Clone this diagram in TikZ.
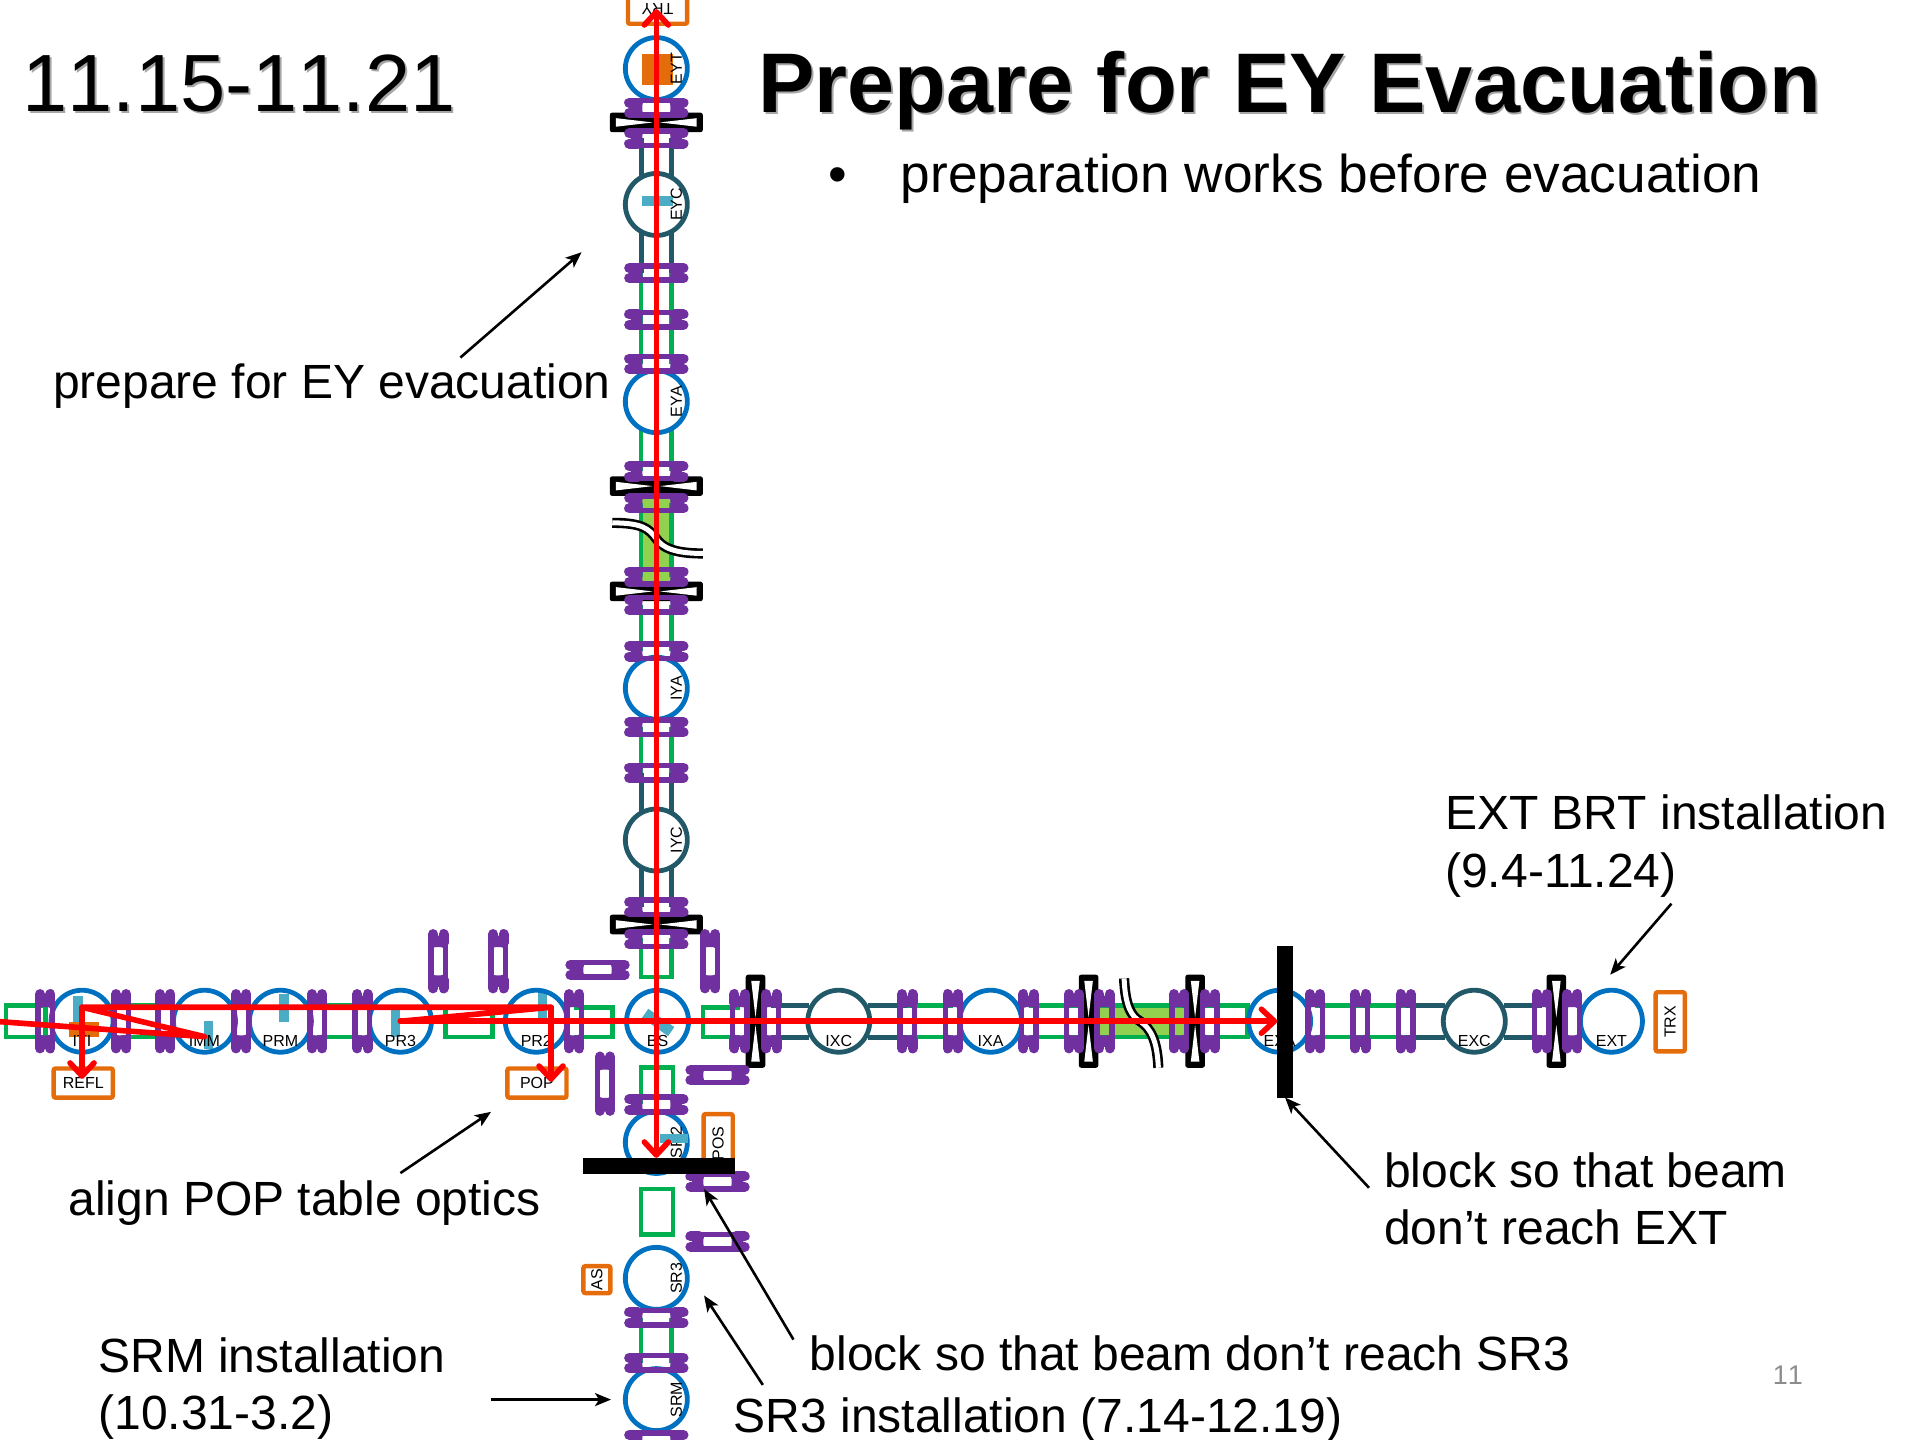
\documentclass[tikz,border=0pt]{standalone}
\usepackage{fontspec}
\setmainfont{Liberation Sans}
\usetikzlibrary{arrows.meta}
\definecolor{vacblue}{HTML}{0070C0}
\definecolor{vacteal}{HTML}{215968}
\definecolor{vacgreen}{HTML}{00B050}
\definecolor{vaclime}{HTML}{92D050}
\definecolor{vacpurple}{HTML}{7030A0}
\definecolor{vacorange}{HTML}{E46C0A}
\definecolor{vacoptic}{HTML}{4BACC6}
\newcommand{\shadowed}[1]{\rlap{\kern.9pt\raisebox{-.9pt}{\textcolor{black!35}{#1}}}#1}

\begin{document}
\begin{tikzpicture}[x=0.6122pt, y=-0.6122pt,
    chamber/.style={circle, draw=vacblue, line width=2.4pt, minimum size=31pt,
        inner sep=0pt, outer sep=0pt},
    cold/.style={chamber, draw=vacteal},
    hlbl/.style={font=\fontsize{8}{8}\selectfont, inner sep=0pt, yshift=-10pt},
    vlbl/.style={font=\fontsize{8}{8}\selectfont, inner sep=0pt, rotate=90, yshift=-10pt},
    detector/.style={draw=vacorange, line width=2.2pt, rounded corners=1pt,
        font=\fontsize{8}{8}\selectfont, inner sep=0pt, outer sep=0pt},
    wide/.style={minimum width=29.6pt, minimum height=14.6pt},
    pipe/.style={draw=vacgreen, line width=2.3pt},
    coldpipe/.style={draw=vacteal, line width=2.5pt},
    limefill/.style={fill=vaclime},
    optic/.style={fill=vacoptic},
    breakline/.style={draw=black, double=white, line width=1.3pt, double distance=2.5pt},
    blockbar/.style={fill=black, inner sep=0pt, outer sep=0pt},
    beam/.style={draw=red, line width=2.8pt, line cap=round, line join=round,
        >={Straight Barb[length=6.5pt, width=12pt, round]}},
    note/.style={draw=black, line width=1.3pt,
        -{Stealth[length=8pt, width=6.5pt, inset=2pt]}},
    bigtext/.style={font=\fontsize{24}{28.8}\selectfont, inner sep=0pt, align=left},
    flange/.pic={
        \draw[vacpurple, line width=5pt, line cap=round]
            (-4.2,-22.2) -- (-4.2,-15) (4.2,-22.2) -- (4.2,-15)
            (-4.2,22.2) -- (-4.2,15) (4.2,22.2) -- (4.2,15);
        \fill[vacpurple] (-4,-21) rectangle (4,-11.5) (-4,11.5) rectangle (4,21);
        \draw[vacpurple, line width=2.8pt] (-5.9,-16) -- (-5.9,16) (5.9,-16) -- (5.9,16);
    },
    gate/.pic={
        \fill[black, rounded corners=1.2pt] (-8,-38) rectangle (8,38);
        \fill[white] (-3.5,-33) -- (3.5,-33) -- (0,-3) -- cycle
            (-3.5,33) -- (3.5,33) -- (0,3) -- cycle;
    }
    ]
    \useasboundingbox (0,0) rectangle (1568,1176);

    \fill[limefill] (898,822) rectangle (968,846);
    \fill[limefill] (524,403) rectangle (548,476);

    \draw[pipe] (5,821) rectangle (37,847);
    \draw[pipe] (99,821) -- (135,821) (99,847) -- (135,847);
    \draw[pipe] (259,821) -- (296,821) (259,847) -- (296,847);
    \draw[pipe] (364,823) rectangle (402,847);
    \draw[pipe] (469,823) -- (500,823) -- (500,847) -- (469,847);
    \draw[pipe] (604,823) -- (574,823) -- (574,847) -- (604,847);
    \draw[coldpipe] (630,821) -- (661,821) (630,847) -- (661,847);
    \draw[coldpipe] (709,821) -- (741,821) (709,847) -- (741,847);
    \draw[pipe] (741,821) -- (778,821) (741,847) -- (778,847);
    \draw[pipe] (840,821) -- (1019,821) -- (1019,847) -- (840,847);
    \draw[pipe] (1074,821) -- (1148,821) (1074,847) -- (1148,847);
    \draw[coldpipe] (1148,821) -- (1180,821) (1148,847) -- (1180,847);
    \draw[coldpipe] (1228,821) -- (1259,821) (1228,847) -- (1259,847);

    \draw[coldpipe] (523.5,113) -- (523.5,145) (548.5,113) -- (548.5,145);
    \draw[coldpipe] (523.5,189) -- (523.5,223) (548.5,189) -- (548.5,223);
    \draw[pipe] (523.5,223) -- (523.5,297) (548.5,223) -- (548.5,297);
    \draw[pipe] (523.5,350) -- (523.5,385) (548.5,350) -- (548.5,385);
    \draw[pipe] (523.5,411) -- (523.5,471) (548.5,411) -- (548.5,471);
    \draw[pipe] (523.5,494) -- (523.5,532) (548.5,494) -- (548.5,532);
    \draw[pipe] (523.5,594) -- (523.5,631) (548.5,594) -- (548.5,631);
    \draw[coldpipe] (523.5,631) -- (523.5,665) (548.5,631) -- (548.5,665);
    \draw[coldpipe] (523.5,708) -- (523.5,741) (548.5,708) -- (548.5,741);
    \draw[pipe] (523.5,766) -- (523.5,798) -- (548.5,798) -- (548.5,766);
    \draw[pipe] (523.5,902) -- (523.5,872) -- (549.5,872) -- (549.5,902);
    \draw[pipe] (523.5,971) rectangle (549.5,1008);
    \draw[pipe] (523.5,1076) -- (523.5,1113) (548.5,1076) -- (548.5,1113);

    \path (617,834) pic {gate} (889,834) pic {gate} (976,834) pic {gate} (1271,834) pic {gate};
    \path (536,100) pic[rotate=90] {gate} (536,397) pic[rotate=90] {gate}
        (536,483) pic[rotate=90] {gate} (536,755) pic[rotate=90] {gate};

    \fill[optic] (60,813) rectangle (68,836);
    \fill[vacorange] (56,835) rectangle (81,847);
    \fill[optic] (167,834) rectangle (174,857);
    \fill[optic] (228,812) rectangle (236,835);
    \fill[optic] (319,825) rectangle (327,847);
    \fill[optic] (439,810) rectangle (447,833);
    \fill[optic, rotate around={-35:(537.5,835)}] (524.5,830.5) rectangle (550.5,839.5);
    \fill[vacorange] (524.5,44) rectangle (549.5,69.5);
    \fill[optic] (524.5,160) rectangle (550,168);

    \node[chamber, label={[hlbl]center:ITI}] (iti) at (67,834) {};
    \node[chamber, label={[hlbl]center:IMM}] (imm) at (167,834) {};
    \node[chamber, label={[hlbl]center:PRM}] (prm) at (229,834) {};
    \node[chamber, label={[hlbl]center:PR3}] (pr3) at (327,834) {};
    \node[chamber, label={[hlbl]center:PR2}] (pr2) at (438,834) {};
    \node[chamber, label={[hlbl]center:BS}] (bs) at (537,834) {};
    \node[cold, label={[hlbl]center:IXC}] (ixc) at (685,834) {};
    \node[chamber, label={[hlbl]center:IXA}] (ixa) at (809,834) {};
    \node[chamber, label={[hlbl]center:EXA}] (exa) at (1045,834) {};
    \node[cold, label={[hlbl]center:EXC}] (exc) at (1204,834) {};
    \node[chamber, label={[hlbl]center:EXT}] (ext) at (1316,834) {};
    \node[chamber, label={[vlbl]center:EYT}] (eyt) at (536,56) {};
    \node[cold, label={[vlbl]center:EYC}] (eyc) at (536,167) {};
    \node[chamber, label={[vlbl]center:EYA}] (eya) at (536,328) {};
    \node[chamber, label={[vlbl]center:IYA}] (iya) at (536,562) {};
    \node[cold, label={[vlbl]center:IYC}] (iyc) at (536,686) {};
    \node[chamber, label={[vlbl]center:SR2}] (sr2) at (536,933) {};
    \node[chamber, label={[vlbl]center:SR3}] (sr3) at (536,1044) {};
    \node[chamber, label={[vlbl]center:SRM}] (srm) at (536,1143) {};
    \fill[optic] (539,926) rectangle (562,933.5);

    \node[detector, wide] (refl) at (68,884.5) {REFL};
    \node[detector, wide] (pop) at (438.5,884.5) {POP};
    \node[detector, wide, rotate=180] (try) at (537,7.5) {TRY};
    \node[detector, wide, rotate=90] (pos) at (586.5,934) {POS};
    \node[detector, wide, rotate=90] (trx) at (1364,834.5) {TRX};
    \node[detector, minimum size=13.5pt, rotate=90] (as) at (487.5,1045) {AS};

    \path (37,834) pic {flange} (99,834) pic {flange} (135,834) pic {flange}
        (197,834) pic {flange} (259,834) pic {flange} (296,834) pic {flange}
        (469,834) pic {flange} (604,834) pic {flange} (630,834) pic {flange}
        (741,834) pic {flange} (778,834) pic {flange} (840,834) pic {flange}
        (877,834) pic {flange} (902,834) pic {flange} (963,834) pic {flange}
        (988,834) pic {flange} (1074,834) pic {flange} (1111,834) pic {flange}
        (1148,834) pic {flange} (1259,834) pic {flange} (1284,834) pic {flange}
        (358,785) pic {flange} (407,785) pic {flange} (580,785) pic {flange}
        (494,885) pic {flange};
    \path (536,88) pic[rotate=90] {flange} (536,113) pic[rotate=90] {flange}
        (536,223) pic[rotate=90] {flange} (536,261) pic[rotate=90] {flange}
        (536,297) pic[rotate=90] {flange} (536,385) pic[rotate=90] {flange}
        (536,411) pic[rotate=90] {flange} (536,471) pic[rotate=90] {flange}
        (536,494) pic[rotate=90] {flange} (536,532) pic[rotate=90] {flange}
        (536,594) pic[rotate=90] {flange} (536,631) pic[rotate=90] {flange}
        (536,741) pic[rotate=90] {flange} (536,767) pic[rotate=90] {flange}
        (536,902) pic[rotate=90] {flange} (536,1076) pic[rotate=90] {flange}
        (536,1113) pic[rotate=90] {flange} (536,1176) pic[rotate=90] {flange}
        (488,792) pic[rotate=90] {flange} (586,878) pic[rotate=90] {flange}
        (586,965) pic[rotate=90] {flange} (586,1014) pic[rotate=90] {flange};

    \draw[breakline] (918,799) .. controls (919,822) and (924,830) .. (931,834)
        .. controls (940,840) and (945,850) .. (946,872);
    \draw[breakline] (500,427) .. controls (525,427) and (530,432) .. (536,440)
        .. controls (541,447) and (550,452) .. (574,452);

    \node[blockbar, minimum width=7.9pt, minimum height=75.7pt] (exblock) at (1049.5,834.5) {};
    \node[blockbar, minimum width=76pt, minimum height=7.9pt] (srblock) at (538,952) {};

    \coordinate (pr3hit) at (327,834);
    \coordinate (pr2hit) at (450,822.6);
    \coordinate (itihit) at (67,822.6);
    \coordinate (immhit) at (167,846.6);
    \coordinate (laser) at (-5,834);
    \coordinate (popend) at (450,883.5);
    \coordinate (reflend) at (67,881);
    \draw[beam, ->] (pr3hit) -- (pr3hit -| exblock.west);
    \draw[beam] (laser) -- (immhit) -- (itihit) -- (pr2hit) -- (pr3hit);
    \draw[beam, ->] (pr2hit) -- (popend);
    \draw[beam, ->] (itihit) -- (reflend);
    \draw[beam, <->] (try.center -| eyt) -- (srblock.north -| eyt);

    \node[font=\fontsize{40.6}{40.6}\selectfont\addfontfeatures{Kerning=Off}, inner sep=0pt, anchor=base west] (datetxt) at (18,91)
        {\shadowed{11.15-11.21}};
    \node[font=\fontsize{42.3}{42.3}\selectfont\bfseries, inner sep=0pt, anchor=base west] (titletxt) at (619,92)
        {\shadowed{Prepare for EY Evacuation}};
    \node[bigtext, font=\fontsize{26.6}{30}\selectfont, anchor=base west] (worktxt) at (676.5,157)
        {•\hspace{26.8pt}preparation works before evacuation};
    \node[bigtext, anchor=base west] (preptxt) at (43,325.5) {prepare for EY evacuation};
    \node[bigtext, anchor=west] (exttxt) at (1180,691) {EXT BRT installation\\(9.4-11.24)};
    \node[bigtext, anchor=west] (blockxtxt) at (1130,979) {block so that beam\\don’t reach EXT};
    \node[bigtext, anchor=base west] (poptxt) at (55.5,992.5) {align POP table optics};
    \node[bigtext, anchor=west] (srmtxt) at (80,1134) {SRM installation\\(10.31-3.2)};
    \node[bigtext, anchor=base west] (blocksrtxt) at (661,1119) {block so that beam don’t reach SR3};
    \node[bigtext, anchor=base west] (sr3txt) at (599,1170) {SR3 installation (7.14-12.19)};
    \node[font=\fontsize{13.5}{13.5}\selectfont\addfontfeatures{Kerning=Off}, text=black!45, inner sep=0pt] (pagenum) at (1460,1123) {11};

    \coordinate (preptail) at (376,292);
    \coordinate (preptip) at (475,206);
    \coordinate (exttail) at (1365,738);
    \coordinate (exttip) at (1315,796);
    \coordinate (blockxtail) at (1118,970);
    \coordinate (poptail) at (327,958);
    \coordinate (poptip) at (401,908);
    \coordinate (srmtail) at (401,1143);
    \coordinate (srmtip) at (499,1143);
    \coordinate (sr3tail) at (623,1131);
    \coordinate (sr3tip) at (575,1058);
    \coordinate (blocksrtail) at (648,1094);
    \coordinate (blocksrtip) at (575,971);
    \draw[note] (preptail) -- (preptip);
    \draw[note] (exttail) -- (exttip);
    \draw[note] (blockxtail) -- (exblock.south);
    \draw[note] (poptail) -- (poptip);
    \draw[note] (srmtail) -- (srmtip);
    \draw[note] (sr3tail) -- (sr3tip);
    \draw[note] (blocksrtail) -- (blocksrtip);
\end{tikzpicture}
\end{document}
